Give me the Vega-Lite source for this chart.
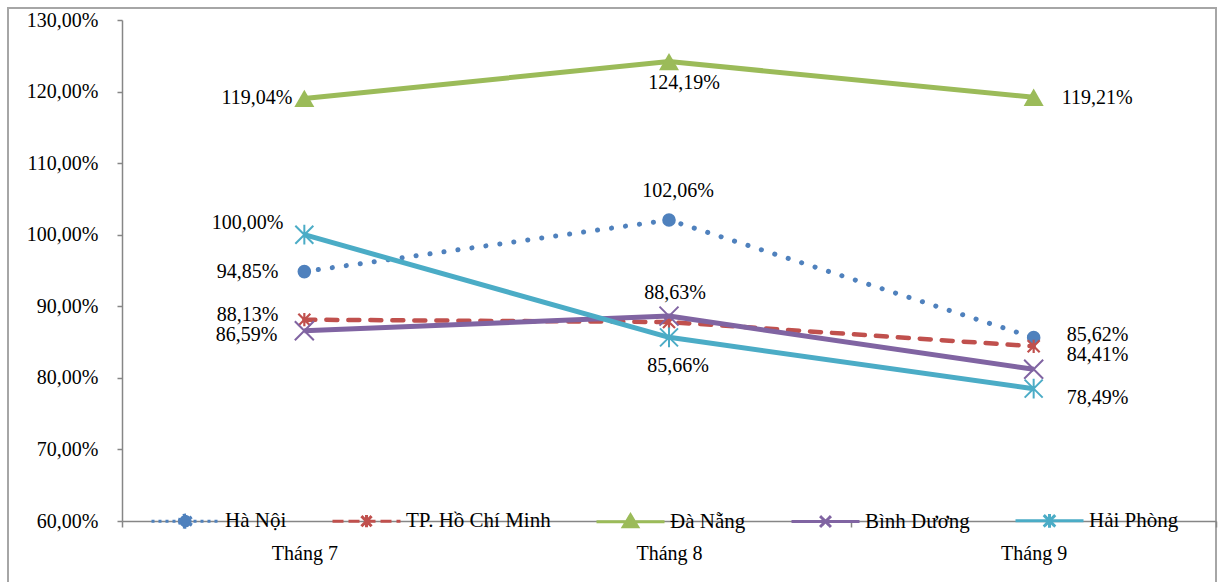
{
  "$schema": "https://vega.github.io/schema/vega-lite/v6.json",
  "width": 1208,
  "height": 575,
  "autosize": {"type": "none"},
  "padding": {"left": 8, "top": 8, "right": 2, "bottom": 0},
  "background": "white",
  "config": {
    "locale": {"number": {"decimal": ",", "thousands": ".", "grouping": [3], "currency": ["", " ₫"]}},
    "view": {"stroke": "#A6A6A6", "strokeWidth": 2},
    "font": "Liberation Serif"
  },
  "data": {
    "values": [
      {"city": "Hà Nội", "month": "Tháng 7", "value": 0.9485},
      {"city": "Hà Nội", "month": "Tháng 8", "value": 1.0206},
      {"city": "Hà Nội", "month": "Tháng 9", "value": 0.8562},
      {"city": "TP. Hồ Chí Minh", "month": "Tháng 7", "value": 0.8813},
      {"city": "TP. Hồ Chí Minh", "month": "Tháng 8", "value": 0.878},
      {"city": "TP. Hồ Chí Minh", "month": "Tháng 9", "value": 0.8441},
      {"city": "Đà Nẵng", "month": "Tháng 7", "value": 1.1904},
      {"city": "Đà Nẵng", "month": "Tháng 8", "value": 1.2419},
      {"city": "Đà Nẵng", "month": "Tháng 9", "value": 1.1921},
      {"city": "Bình Dương", "month": "Tháng 7", "value": 0.8659},
      {"city": "Bình Dương", "month": "Tháng 8", "value": 0.8863},
      {"city": "Bình Dương", "month": "Tháng 9", "value": 0.812},
      {"city": "Hải Phòng", "month": "Tháng 7", "value": 1.0},
      {"city": "Hải Phòng", "month": "Tháng 8", "value": 0.8566},
      {"city": "Hải Phòng", "month": "Tháng 9", "value": 0.7849}
    ]
  },
  "encoding": {
    "x": {
      "field": "month",
      "type": "nominal",
      "sort": ["Tháng 7", "Tháng 8", "Tháng 9"],
      "scale": {"type": "band", "range": [114, 1208], "paddingInner": 0, "paddingOuter": 0},
      "axis": {
        "title": null,
        "orient": "bottom",
        "offset": -62,
        "tickBand": "extent",
        "labelAngle": 0,
        "grid": false,
        "domainColor": "#868686",
        "domainWidth": 1.5,
        "tickColor": "#868686",
        "tickWidth": 1.5,
        "tickSize": 6,
        "labelPadding": 16,
        "labelFont": "Liberation Serif",
        "labelFontSize": 20,
        "labelColor": "black"
      }
    },
    "y": {
      "field": "value",
      "type": "quantitative",
      "scale": {"domain": [0.6, 1.3], "range": [513, 12], "nice": false, "zero": false},
      "axis": {
        "title": null,
        "values": [0.6, 0.7, 0.8, 0.9, 1.0, 1.1, 1.2, 1.3],
        "format": ".2%",
        "grid": false,
        "offset": -114,
        "domainColor": "#868686",
        "domainWidth": 1.5,
        "tickColor": "#868686",
        "tickWidth": 1.5,
        "tickSize": 5,
        "labelPadding": 19,
        "labelFont": "Liberation Serif",
        "labelFontSize": 20,
        "labelColor": "black"
      }
    }
  },
  "layer": [
    {
      "transform": [{"filter": "datum.city == 'Hà Nội'"}],
      "mark": {"type": "line", "color": "#4F81BD", "strokeWidth": 5, "strokeDash": [0.1, 14], "strokeCap": "round", "strokeJoin": "round"},
      "encoding": {}
    },
    {
      "transform": [{"filter": "datum.city == 'Hà Nội'"}],
      "mark": {"type": "point", "shape": "circle", "filled": true, "size": 185, "color": "#4F81BD", "opacity": 1},
      "encoding": {}
    },
    {
      "transform": [{"filter": "datum.city == 'TP. Hồ Chí Minh'"}],
      "mark": {"type": "line", "color": "#C0504D", "strokeWidth": 4.5, "strokeDash": [11, 11], "strokeCap": "round", "strokeJoin": "round"},
      "encoding": {}
    },
    {
      "transform": [{"filter": "datum.city == 'TP. Hồ Chí Minh'"}],
      "mark": {"type": "point", "shape": "M-1,-1L1,1M-1,1L1,-1M0,-1.1L0,1.1", "filled": false, "size": 144, "strokeWidth": 2.2, "color": "#C0504D", "opacity": 1},
      "encoding": {}
    },
    {
      "transform": [{"filter": "datum.city == 'Đà Nẵng'"}],
      "mark": {"type": "line", "color": "#9BBB59", "strokeWidth": 5, "strokeJoin": "round"},
      "encoding": {}
    },
    {
      "transform": [{"filter": "datum.city == 'Đà Nẵng'"}],
      "mark": {"type": "point", "shape": "triangle-up", "filled": true, "size": 400, "color": "#9BBB59", "opacity": 1},
      "encoding": {}
    },
    {
      "transform": [{"filter": "datum.city == 'Bình Dương'"}],
      "mark": {"type": "line", "color": "#8064A2", "strokeWidth": 5, "strokeJoin": "round"},
      "encoding": {}
    },
    {
      "transform": [{"filter": "datum.city == 'Bình Dương'"}],
      "mark": {"type": "point", "shape": "M-1,-1L1,1M-1,1L1,-1", "filled": false, "size": 361, "strokeWidth": 2, "color": "#8064A2", "opacity": 1},
      "encoding": {}
    },
    {
      "transform": [{"filter": "datum.city == 'Hải Phòng'"}],
      "mark": {"type": "line", "color": "#4BACC6", "strokeWidth": 5, "strokeJoin": "round"},
      "encoding": {}
    },
    {
      "transform": [{"filter": "datum.city == 'Hải Phòng'"}],
      "mark": {"type": "point", "shape": "M-1,-1L1,1M-1,1L1,-1M0,-1.1L0,1.1", "filled": false, "size": 324, "strokeWidth": 2, "color": "#4BACC6", "opacity": 1},
      "encoding": {}
    },
    {
      "transform": [{"filter": "datum.month == 'Tháng 7' && datum.city == 'Hà Nội'"}],
      "mark": {"type": "text", "align": "right", "baseline": "middle", "dx": -26, "dy": 0, "font": "Liberation Serif", "fontSize": 20, "color": "black"},
      "encoding": {"text": {"field": "value", "type": "quantitative", "format": ".2%"}}
    },
    {
      "transform": [{"filter": "datum.month == 'Tháng 7' && datum.city == 'TP. Hồ Chí Minh'"}],
      "mark": {"type": "text", "align": "right", "baseline": "middle", "dx": -26, "dy": -5, "font": "Liberation Serif", "fontSize": 20, "color": "black"},
      "encoding": {"text": {"field": "value", "type": "quantitative", "format": ".2%"}}
    },
    {
      "transform": [{"filter": "datum.month == 'Tháng 7' && datum.city == 'Bình Dương'"}],
      "mark": {"type": "text", "align": "right", "baseline": "middle", "dx": -27, "dy": 4, "font": "Liberation Serif", "fontSize": 20, "color": "black"},
      "encoding": {"text": {"field": "value", "type": "quantitative", "format": ".2%"}}
    },
    {
      "transform": [{"filter": "datum.month == 'Tháng 7' && datum.city == 'Hải Phòng'"}],
      "mark": {"type": "text", "align": "right", "baseline": "middle", "dx": -21, "dy": -12, "font": "Liberation Serif", "fontSize": 20, "color": "black"},
      "encoding": {"text": {"field": "value", "type": "quantitative", "format": ".2%"}}
    },
    {
      "transform": [{"filter": "datum.month == 'Tháng 7' && datum.city == 'Đà Nẵng'"}],
      "mark": {"type": "text", "align": "right", "baseline": "middle", "dx": -12, "dy": 0, "font": "Liberation Serif", "fontSize": 20, "color": "black"},
      "encoding": {"text": {"field": "value", "type": "quantitative", "format": ".2%"}}
    },
    {
      "transform": [{"filter": "datum.month == 'Tháng 8' && datum.city == 'Hà Nội'"}],
      "mark": {"type": "text", "align": "center", "baseline": "middle", "dx": 9, "dy": -29, "font": "Liberation Serif", "fontSize": 20, "color": "black"},
      "encoding": {"text": {"field": "value", "type": "quantitative", "format": ".2%"}}
    },
    {
      "transform": [{"filter": "datum.month == 'Tháng 8' && datum.city == 'Bình Dương'"}],
      "mark": {"type": "text", "align": "center", "baseline": "middle", "dx": 6, "dy": -23, "font": "Liberation Serif", "fontSize": 20, "color": "black"},
      "encoding": {"text": {"field": "value", "type": "quantitative", "format": ".2%"}}
    },
    {
      "transform": [{"filter": "datum.month == 'Tháng 8' && datum.city == 'Đà Nẵng'"}],
      "mark": {"type": "text", "align": "center", "baseline": "middle", "dx": 15, "dy": 21, "font": "Liberation Serif", "fontSize": 20, "color": "black"},
      "encoding": {"text": {"field": "value", "type": "quantitative", "format": ".2%"}}
    },
    {
      "transform": [{"filter": "datum.month == 'Tháng 8' && datum.city == 'Hải Phòng'"}],
      "mark": {"type": "text", "align": "center", "baseline": "middle", "dx": 9, "dy": 29, "font": "Liberation Serif", "fontSize": 20, "color": "black"},
      "encoding": {"text": {"field": "value", "type": "quantitative", "format": ".2%"}}
    },
    {
      "transform": [{"filter": "datum.month == 'Tháng 9' && datum.city == 'Hà Nội'"}],
      "mark": {"type": "text", "align": "left", "baseline": "middle", "dx": 33, "dy": -3, "font": "Liberation Serif", "fontSize": 20, "color": "black"},
      "encoding": {"text": {"field": "value", "type": "quantitative", "format": ".2%"}}
    },
    {
      "transform": [{"filter": "datum.month == 'Tháng 9' && datum.city == 'Đà Nẵng'"}],
      "mark": {"type": "text", "align": "left", "baseline": "middle", "dx": 28, "dy": 1, "font": "Liberation Serif", "fontSize": 20, "color": "black"},
      "encoding": {"text": {"field": "value", "type": "quantitative", "format": ".2%"}}
    },
    {
      "transform": [{"filter": "datum.month == 'Tháng 9' && (datum.city == 'TP. Hồ Chí Minh' || datum.city == 'Hải Phòng')"}],
      "mark": {"type": "text", "align": "left", "baseline": "middle", "dx": 33, "dy": 9, "font": "Liberation Serif", "fontSize": 20, "color": "black"},
      "encoding": {"text": {"field": "value", "type": "quantitative", "format": ".2%"}}
    },
    {
      "transform": [{"filter": "false"}],
      "mark": {"type": "point", "filled": true, "opacity": 1},
      "encoding": {
        "color": {
          "field": "city",
          "type": "nominal",
          "scale": {
            "domain": ["Hà Nội", "TP. Hồ Chí Minh", "Đà Nẵng", "Bình Dương", "Hải Phòng"],
            "range": ["#4F81BD", "#C0504D", "#9BBB59", "#8064A2", "#4BACC6"]
          },
          "legend": {
            "title": null,
            "orient": "none",
            "direction": "horizontal",
            "legendX": 142,
            "legendY": 477,
            "padding": 0,
            "symbolSize": 4624,
            "symbolStrokeWidth": 3,
            "labelFont": "Liberation Serif",
            "labelFontSize": 21,
            "labelColor": "black",
            "labelOffset": 4,
            "columnPadding": 39,
            "labelLimit": 400
          }
        },
        "stroke": {
          "field": "city",
          "type": "nominal",
          "scale": {
            "domain": ["Hà Nội", "TP. Hồ Chí Minh", "Đà Nẵng", "Bình Dương", "Hải Phòng"],
            "range": ["#4F81BD", "#C0504D", "#9BBB59", "#8064A2", "#4BACC6"]
          }
        },
        "shape": {
          "field": "city",
          "type": "nominal",
          "scale": {
            "domain": ["Hà Nội", "TP. Hồ Chí Minh", "Đà Nẵng", "Bình Dương", "Hải Phòng"],
            "range": [
              "M-1,0L1,0M-0.18,0A0.18,0.18,0,1,1,0.18,0A0.18,0.18,0,1,1,-0.18,0Z",
              "M-1,0L1,0M0,0L0.15,0.15M0,0L-0.15,-0.15M0,0L0.15,-0.15M0,0L-0.15,0.15M0,0L0,0.18M0,0L0,-0.18",
              "M-1,0L1,0M0,-0.2L0.21,0.15L-0.21,0.15Z",
              "M-1,0L1,0M-0.16,-0.16L0.16,0.16M-0.16,0.16L0.16,-0.16",
              "M-1,0L1,0M0,0L0.17,0.17M0,0L-0.17,-0.17M0,0L0.17,-0.17M0,0L-0.17,0.17M0,0L0,0.2M0,0L0,-0.2"
            ]
          }
        },
        "strokeDash": {
          "field": "city",
          "type": "nominal",
          "scale": {
            "domain": ["Hà Nội", "TP. Hồ Chí Minh", "Đà Nẵng", "Bình Dương", "Hải Phòng"],
            "range": [[3, 4], [11, 5], [1, 0], [1, 0], [1, 0]]
          }
        }
      }
    }
  ]
}
